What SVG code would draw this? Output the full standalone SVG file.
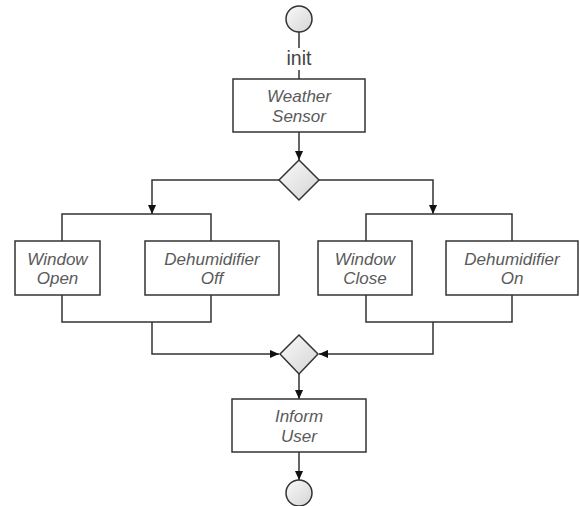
<svg xmlns="http://www.w3.org/2000/svg" width="580" height="506" viewBox="0 0 580 506">
  <style>
    .act rect { fill: #ffffff; stroke: #333333; stroke-width: 1.5; }
    .act text { font-family: "Liberation Sans", Arial, sans-serif; font-style: italic; font-size: 17px; fill: #5a5a5a; text-anchor: middle; }
    .term circle { fill: url(#gradLight); stroke: #333333; stroke-width: 1.5; }
    .gate polygon { fill: url(#gradLight); stroke: #333333; stroke-width: 1.5; }
    .wire { fill: none; stroke: #333333; stroke-width: 1.5; }
    .arrow { marker-end: url(#head); }
    .lbl { font-family: "Liberation Sans", Arial, sans-serif; font-size: 19.5px; fill: #444444; text-anchor: middle; }
  </style>
  <defs>
    <linearGradient id="gradLight" x1="0" y1="0" x2="1" y2="1">
      <stop offset="0" stop-color="#fafafa"/>
      <stop offset="1" stop-color="#d4d4d4"/>
    </linearGradient>
    <marker id="head" viewBox="0 0 10 10" refX="10" refY="5" markerUnits="userSpaceOnUse" markerWidth="9" markerHeight="9" orient="auto">
      <path d="M0 0.5 L10 5 L0 9.5 Z" fill="#111111"/>
    </marker>
  </defs>
  <rect width="580" height="506" fill="#ffffff"/>

  <g id="connectors">
    <path class="wire" d="M299 32 V48 M299 70 V79"/>
    <text class="lbl" x="299" y="65">init</text>
    <path class="wire arrow" d="M299 132 V160"/>
    <path class="wire arrow" d="M279 180 H152 V214"/>
    <path class="wire" d="M62 241 V214 H211 V241"/>
    <path class="wire arrow" d="M319 180 H433 V214"/>
    <path class="wire" d="M366 241 V214 H512 V241"/>
    <path class="wire" d="M62 295 V322 H211 V295"/>
    <path class="wire arrow" d="M152 322 V354 H279"/>
    <path class="wire" d="M366 295 V322 H512 V295"/>
    <path class="wire arrow" d="M433 322 V354 H319"/>
    <path class="wire arrow" d="M299 374 V399"/>
    <path class="wire arrow" d="M299 452 V480"/>
  </g>

  <g id="start" class="term"><circle cx="299" cy="19" r="13"/></g>

  <g id="weather-sensor" class="act">
    <rect x="233" y="79" width="132" height="53"/>
    <text x="299" y="102">Weather</text>
    <text x="299" y="122">Sensor</text>
  </g>

  <g id="split" class="gate"><polygon points="299,160 319,180 299,200 279,180"/></g>

  <g id="window-open" class="act">
    <rect x="15" y="241" width="85" height="54"/>
    <text x="57.5" y="265">Window</text>
    <text x="57.5" y="284">Open</text>
  </g>

  <g id="dehumidifier-off" class="act">
    <rect x="145" y="241" width="134" height="54"/>
    <text x="212" y="265">Dehumidifier</text>
    <text x="212" y="284">Off</text>
  </g>

  <g id="window-close" class="act">
    <rect x="318" y="241" width="94" height="54"/>
    <text x="365" y="265">Window</text>
    <text x="365" y="284">Close</text>
  </g>

  <g id="dehumidifier-on" class="act">
    <rect x="446" y="241" width="132" height="54"/>
    <text x="512" y="265">Dehumidifier</text>
    <text x="512" y="284">On</text>
  </g>

  <g id="merge" class="gate"><polygon points="299,335 318,354 299,374 280,354"/></g>

  <g id="inform-user" class="act">
    <rect x="232" y="399" width="134" height="53"/>
    <text x="299" y="422">Inform</text>
    <text x="299" y="442">User</text>
  </g>

  <g id="end" class="term"><circle cx="299" cy="493" r="13"/></g>
</svg>
